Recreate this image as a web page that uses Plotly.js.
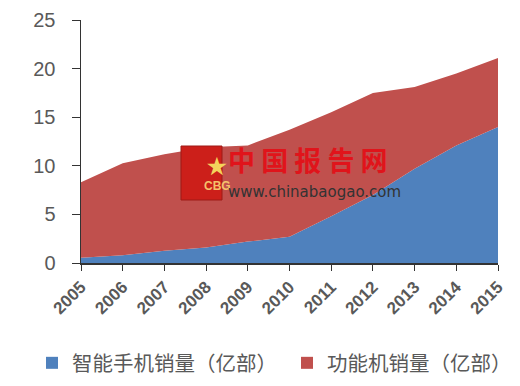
<!DOCTYPE html>
<html>
<head>
<meta charset="utf-8">
<script src="https://cdn.plot.ly/plotly-3.0.1.min.js"></script>
<style>html,body{margin:0;padding:0;background:#fff;}#chart{width:520px;height:386px;}</style>
</head>
<body>
<div id="chart"></div>
<script>
var years = [2005, 2006, 2007, 2008, 2009, 2010, 2011, 2012, 2013, 2014, 2015];
var smartSales = [0.55, 0.8, 1.27, 1.6, 2.2, 2.7, 4.8, 7.0, 9.7, 12.1, 14.0];
var featureSales = [7.75, 9.45, 9.93, 10.3, 9.9, 11.0, 10.7, 10.5, 8.4, 7.4, 7.1];
var seriesNames = ['智能手机销量（亿部）', '功能机销量（亿部）'];
var seriesColors = ['#4f81bd', '#c0504d'];
var yTicks = [0, 5, 10, 15, 20, 25];

var traces = [
  {x: years, y: smartSales, name: seriesNames[0], type: 'scatter', mode: 'none',
   stackgroup: 'one', fillcolor: seriesColors[0], line: {width: 0}, showlegend: false},
  {x: years, y: featureSales, name: seriesNames[1], type: 'scatter', mode: 'none',
   stackgroup: 'one', fillcolor: seriesColors[1], line: {width: 0}, showlegend: false},
  {x: [null], y: [null], name: seriesNames[0], type: 'scatter', mode: 'markers',
   marker: {symbol: 'square', size: 12, color: seriesColors[0]}, showlegend: true, legend: 'legend'},
  {x: [null], y: [null], name: seriesNames[1], type: 'scatter', mode: 'markers',
   marker: {symbol: 'square', size: 12, color: seriesColors[1]}, showlegend: true, legend: 'legend2'}
];

var legendFont = {size: 20.5, color: '#595959', family: 'Noto Sans CJK SC, sans-serif'};

var layout = {
  width: 520, height: 386,
  margin: {l: 81, r: 22, t: 20, b: 123, autoexpand: false},
  paper_bgcolor: '#ffffff', plot_bgcolor: '#ffffff',
  showlegend: true,
  font: {family: 'Liberation Sans, Arial, sans-serif', color: '#595959'},
  xaxis: {
    range: [2005, 2015], tickvals: years, ticktext: years.map(String),
    tickangle: -45, ticks: 'outside', ticklen: 6, tickcolor: '#333',
    showline: true, linecolor: '#333', linewidth: 1.5, showgrid: false, zeroline: false,
    tickfont: {size: 17, color: '#595959', family: 'Liberation Sans, Arial, sans-serif', weight: 'bold'}
  },
  yaxis: {
    range: [0, 25], tickvals: yTicks, ticks: 'outside', ticklen: 8, tickcolor: '#333',
    showline: true, linecolor: '#333', linewidth: 1.5, showgrid: false, zeroline: false,
    ticklabelstandoff: 12,
    tickfont: {size: 20, color: '#595959'}
  },
  legend: {
    orientation: 'h', xref: 'container', yref: 'container',
    x: 32 / 520, xanchor: 'left', y: (386 - 363) / 386, yanchor: 'middle',
    font: legendFont, itemwidth: 30, bgcolor: 'rgba(0,0,0,0)'
  },
  legend2: {
    orientation: 'h', xref: 'container', yref: 'container',
    x: 287 / 520, xanchor: 'left', y: (386 - 363) / 386, yanchor: 'middle',
    font: legendFont, itemwidth: 30, bgcolor: 'rgba(0,0,0,0)'
  },
  shapes: [
    {type: 'rect', xref: 'paper', yref: 'paper',
     x0: (181 - 81) / 417, x1: (222 - 81) / 417, y0: (263 - 200) / 243, y1: (263 - 146) / 243,
     fillcolor: '#cc1f1a', line: {color: '#9e1b17', width: 1}}
  ],
  annotations: [
    {xref: 'paper', yref: 'paper', x: (201.5 - 81) / 417, y: (263 - 173) / 243, yanchor: 'middle',
     text: '<span style="font-size:22px;color:#f3d35c">★</span><br>CBG', showarrow: false, align: 'center',
     font: {size: 12, color: '#f5c26b', family: 'Liberation Sans, Arial', weight: 'bold'}},
    {xref: 'paper', yref: 'paper', x: (226 - 81) / 417, y: (263 - 181) / 243, xanchor: 'left', yanchor: 'bottom',
     showarrow: false, text: '中 国 报 告 网',
     font: {size: 27, color: '#e0141b', family: 'Noto Sans CJK SC, sans-serif', weight: 'bold'}},
    {xref: 'paper', yref: 'paper', x: (226 - 81) / 417, y: (263 - 181) / 243, xanchor: 'left', yanchor: 'top',
     showarrow: false, text: 'www.chinabaogao.com',
     font: {size: 15, color: '#333333', family: 'DejaVu Sans, sans-serif'}}
  ]
};

Plotly.newPlot('chart', traces, layout, {displayModeBar: false, staticPlot: true});
</script>
</body>
</html>
